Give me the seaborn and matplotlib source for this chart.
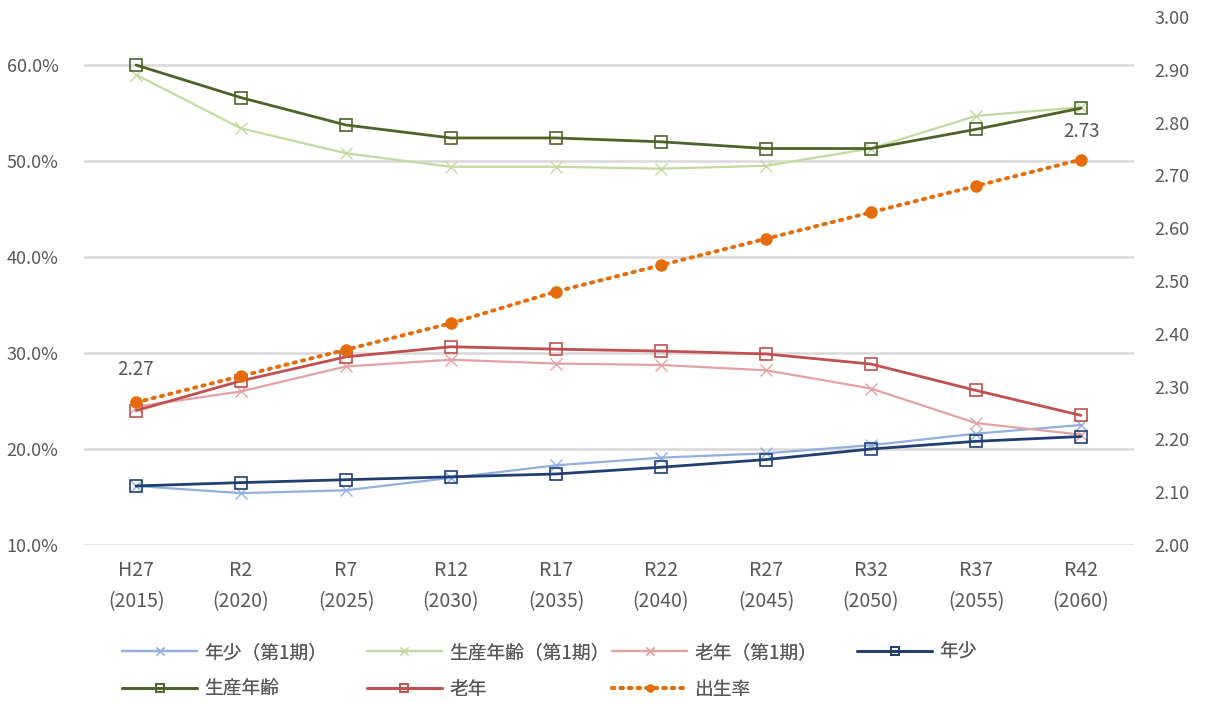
import numpy as np
import pandas as pd
import matplotlib
matplotlib.use('Agg')
import matplotlib.pyplot as plt
from matplotlib.ticker import FixedLocator, FuncFormatter
import seaborn as sns


# Data
categories = ['H27\n(2015)', 'R2\n(2020)', 'R7\n(2025)', 'R12\n(2030)', 'R17\n(2035)',
              'R22\n(2040)', 'R27\n(2045)', 'R32\n(2050)', 'R37\n(2055)', 'R42\n(2060)']

young_p1 = [16.15, 15.4, 15.7, 17.0, 18.3, 19.1, 19.55, 20.4, 21.6, 22.5]
working_p1 = [59.0, 53.4, 50.8, 49.4, 49.4, 49.2, 49.5, 51.3, 54.7, 55.6]
old_p1 = [24.4, 26.0, 28.6, 29.3, 28.9, 28.75, 28.2, 26.3, 22.7, 21.5]
young = [16.15, 16.5, 16.8, 17.1, 17.4, 18.1, 18.9, 20.0, 20.8, 21.3]
working = [60.0, 56.6, 53.75, 52.4, 52.4, 52.0, 51.3, 51.3, 53.3, 55.5]
old = [24.0, 27.1, 29.6, 30.65, 30.4, 30.2, 29.9, 28.85, 26.1, 23.5]
birth_rate = [2.27, 2.32, 2.37, 2.42, 2.48, 2.53, 2.58, 2.63, 2.68, 2.73]

sns.set_theme(style='white')
plt.rcParams['font.family'] = ['Noto Sans CJK JP', 'DejaVu Sans']

grey = '#595959'
x = np.arange(len(categories))

fig = plt.figure(figsize=(12.05, 7.02), dpi=100)
ax = fig.add_axes([83.5 / 1205, 1 - 545 / 702, 1050 / 1205, 528 / 702])
ax2 = ax.twinx()

# light "第1期" series with x markers
light = [
    ('年少（第1期）', young_p1, '#8fb0e0'),
    ('生産年齢（第1期）', working_p1, '#c4d99e'),
    ('老年（第1期）', old_p1, '#e4a1a4'),
]
for name, vals, col in light:
    sns.lineplot(x=x, y=vals, ax=ax, color=col, linewidth=1.6, marker='x',
                 markersize=9, markeredgewidth=1.0, markeredgecolor=col,
                 sort=False, label=name, legend=False)

dark = [
    ('年少', young, '#1f3f73'),
    ('生産年齢', working, '#4f6228'),
    ('老年', old, '#c0504d'),
]
for name, vals, col in dark:
    sns.lineplot(x=x, y=vals, ax=ax, color=col, linewidth=2.0, marker='s',
                 markersize=8.5, markerfacecolor='none', markeredgewidth=1.2,
                 markeredgecolor=col, sort=False, label=name, legend=False)

orange = '#e46c0a'
sns.lineplot(x=x, y=birth_rate, ax=ax2, color=orange, linewidth=2.8,
             linestyle=(0, (0.6, 1.6)), dash_capstyle='round', marker='o',
             markersize=9, markeredgewidth=0, sort=False, label='出生率',
             legend=False)

for i, dy in [(0, 24), (len(x) - 1, 20)]:
    ax2.annotate(f'{birth_rate[i]:.2f}', (x[i], birth_rate[i]), xytext=(0, dy),
                 textcoords='offset points', ha='center', va='center',
                 fontsize=13.5, color=grey)

# axes styling
ax.set_xlim(-0.5, len(x) - 0.5)
ax.set_ylim(10, 65)
ax.yaxis.set_major_locator(FixedLocator([10, 20, 30, 40, 50, 60]))
ax.yaxis.set_major_formatter(FuncFormatter(lambda v, p: f'{v:.1f}%'))
ax2.set_ylim(2.0, 3.0)
ax2.yaxis.set_major_locator(FixedLocator(np.arange(2.0, 3.01, 0.1)))
ax2.yaxis.set_major_formatter(FuncFormatter(lambda v, p: f'{v:.2f}'))
ax.set_xticks(x)
ax.set_xticklabels(categories, linespacing=1.6)

ax.grid(axis='y', color='#d9d9d9', linewidth=1.8)
ax.set_axisbelow(True)
for a in (ax, ax2):
    for s in a.spines.values():
        s.set_visible(False)
    a.set_xlabel('')
    a.set_ylabel('')
ax.tick_params(axis='y', length=0, pad=18, labelsize=13, labelcolor=grey)
ax.tick_params(axis='x', length=0, pad=11, labelsize=14, labelcolor=grey)
ax2.tick_params(axis='y', length=0, pad=15, labelsize=13, labelcolor=grey)

# legend: 4 equal-width columns, row-wise order like the original
handles1, labels1 = ax.get_legend_handles_labels()
handles2, labels2 = ax2.get_legend_handles_labels()
handles = handles1 + handles2
labels = labels1 + labels2
columns = [[0, 4], [1, 5], [2, 6], [3]]
col_x = [122, 367, 612, 857]
for cx, idx in zip(col_x, columns):
    leg = fig.legend([handles[i] for i in idx], [labels[i] for i in idx],
                     loc='upper left', bbox_to_anchor=(cx / 1205, 1 - 642 / 702),
                     frameon=False, fontsize=13.5, labelcolor=grey,
                     handlelength=4.0, handletextpad=0.4, labelspacing=0.85,
                     markerscale=0.65, borderpad=0, borderaxespad=0)
    fig.add_artist(leg)

fig.savefig('out.png', dpi=100)
